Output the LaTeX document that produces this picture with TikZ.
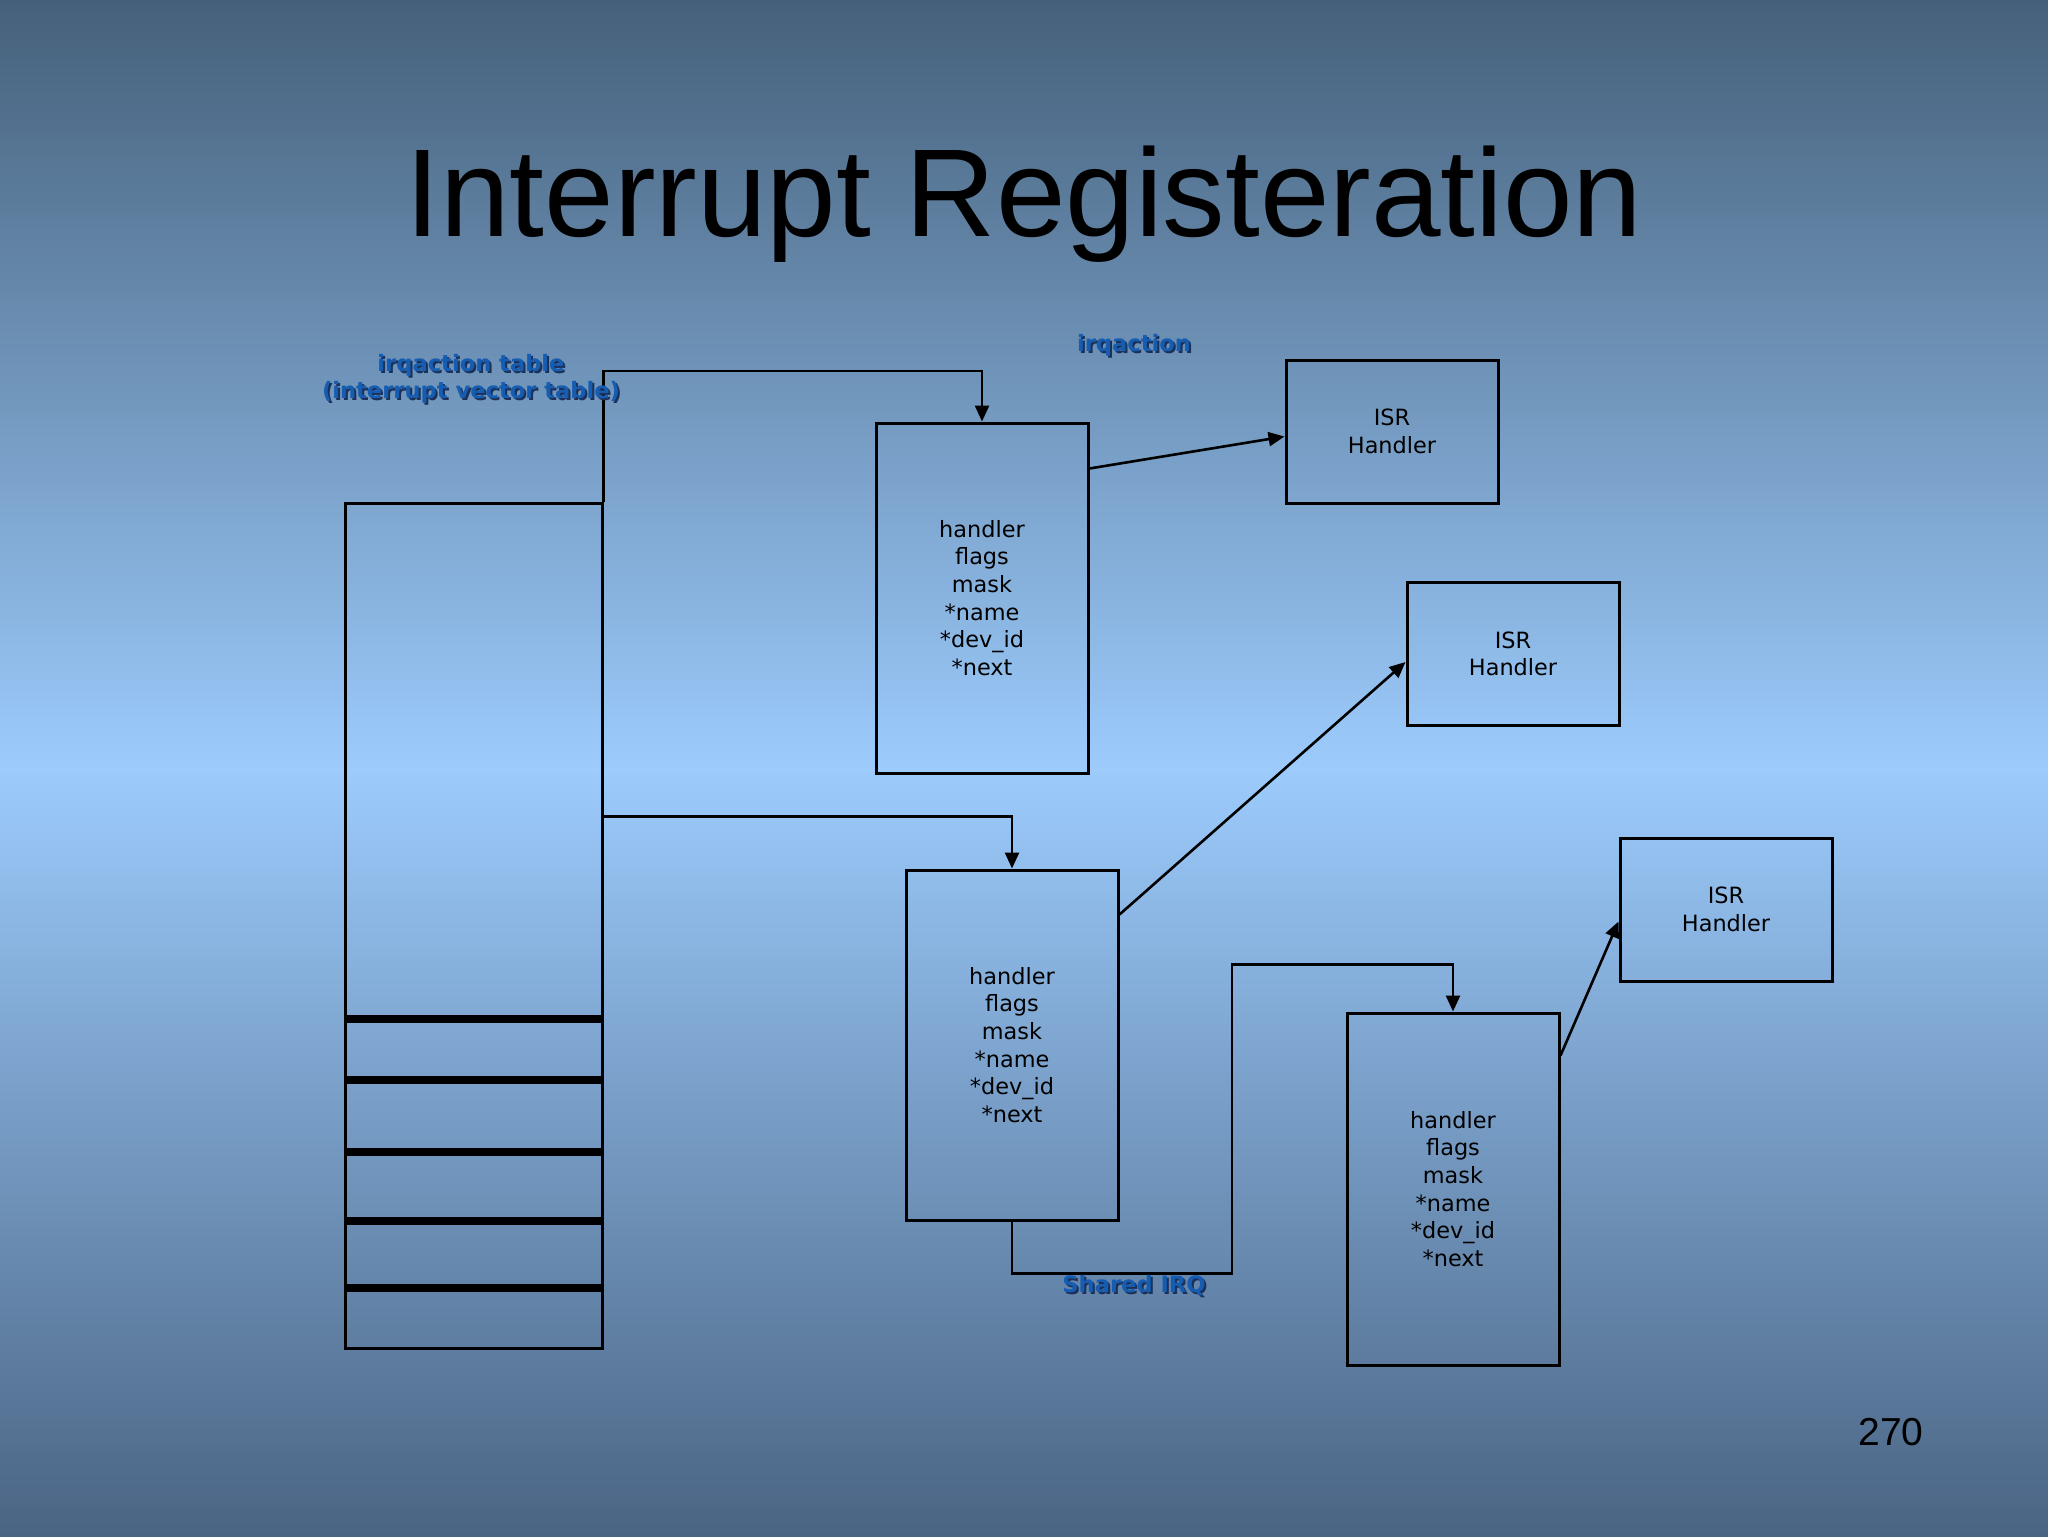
\documentclass[tikz,border=0pt]{standalone}
\usepackage{fontspec}
\setmainfont{DejaVu Sans}
\newfontfamily\titlefont{Liberation Sans}
\usetikzlibrary{arrows.meta,calc}
\definecolor{bgtop}{RGB}{69,96,122}
\definecolor{bgmid}{RGB}{156,203,252}
\definecolor{bgbot}{RGB}{74,100,131}
\definecolor{lblblue}{RGB}{22,92,176}
\definecolor{lblshadow}{RGB}{28,48,88}
\newcommand\shtext[1]{\leavevmode\rlap{\kern1pt\raisebox{-1pt}{\textcolor{lblshadow}{#1}}}#1}
\begin{document}
\begin{tikzpicture}[x=0.5pt,y=-0.5pt,
  rec/.style={draw=black,line width=1.5pt,inner sep=0pt,align=center,font=\fontsize{11.2}{13.8}\selectfont,text=black},
  irqbox/.style={rec,minimum width=106pt,minimum height=175pt},
  isrbox/.style={rec,minimum width=106pt,minimum height=71.5pt},
  conn/.style={draw=black,line width=1.3pt},
  arr/.style={conn,-{Triangle[length=8pt,width=7pt]}},
  lbl/.style={font=\fontsize{11.3}{13.5}\selectfont\bfseries,text=lblblue,align=center,inner sep=0pt},
  bar/.style={line width=4pt,black}]

\shade[top color=bgtop,bottom color=bgbot,middle color=bgmid] (0,0) rectangle (2048,1536);
\useasboundingbox (0,0) rectangle (2048,1536);

\node[font=\titlefont\fontsize{62.5}{75}\selectfont,anchor=base] (title) at (1024,236) {Interrupt Registeration};

% irqaction table
\node[draw=black,line width=1.5pt,minimum width=128.5pt,minimum height=422.5pt,inner sep=0pt] (tbl) at (473.5,925.5) {};
\foreach \yy in {1019,1080,1152,1221,1288}
  \draw[bar] (tbl.west |- 0,\yy) -- (tbl.east |- 0,\yy);

% irqaction boxes
\node[irqbox] (b1) at (982,598) {handler\\flags\\mask\\*name\\*dev\_id\\*next};
\node[irqbox] (b2) at (1012,1045) {handler\\flags\\mask\\*name\\*dev\_id\\*next};
\node[irqbox,minimum height=176pt] (b3) at (1453,1189) {handler\\flags\\mask\\*name\\*dev\_id\\*next};

% ISR handlers
\node[isrbox] (isr1) at (1392,431.5) {ISR\\Handler};
\node[isrbox] (isr2) at (1513,654) {ISR\\Handler};
\node[isrbox] (isr3) at (1726,909.5) {ISR\\Handler};

% connectors
\draw[arr] (tbl.north east) -- (tbl.east |- 0,371) -| (b1.north);
\draw[arr] ($(tbl.north east)+(0,315)$) -| (b2.north);
\draw[arr] (b2.south) -- ++(0,52) -- ++(220,0) -- ++(0,-309) -| (b3.north);
\draw[arr] ($(b1.north east)+(0,47)$) -- ($(isr1.north west)+(0,78)$);
\draw[arr] ($(b2.north east)+(0,46)$) -- ($(isr2.north west)+(0,81)$);
\draw[arr] ($(b3.north east)+(0,44)$) -- ($(isr3.north west)+(0,85)$);

% labels
\node[lbl] (lt) at (471,380) {\shtext{irqaction table}\\\shtext{(interrupt vector table)}};
\node[lbl] (lia) at (1134,346) {\shtext{irqaction}};
\node[lbl] (lsh) at (1134,1287) {\shtext{Shared IRQ}};

\node[font=\titlefont\fontsize{19.5}{23}\selectfont,anchor=base] (pg) at (1891,1445) {270};
\end{tikzpicture}
\end{document}
